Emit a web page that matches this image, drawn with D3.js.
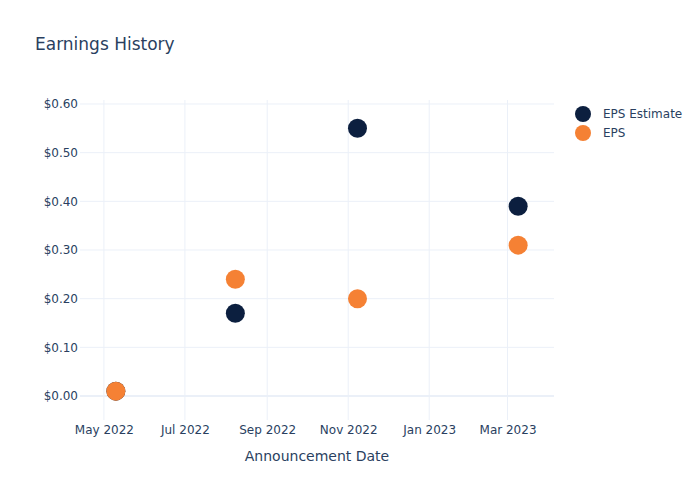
<!DOCTYPE html>
<html>
<head>
<meta charset="utf-8">
<script src="https://cdn.jsdelivr.net/npm/d3@7"></script>
<style>
  html, body { margin: 0; padding: 0; background: #fff; }
  svg { display: block; font-family: "DejaVu Sans", Verdana, sans-serif; }
</style>
</head>
<body>
<svg id="chart" width="700" height="500"></svg>
<script>
const dates = ["2022-05-10", "2022-08-08", "2022-11-08", "2023-03-09"];
const epsEstimate = [0.01, 0.17, 0.55, 0.39];
const eps = [0.01, 0.24, 0.20, 0.31];
const xTickDates = ["2022-05-01", "2022-07-01", "2022-09-01", "2022-11-01", "2023-01-01", "2023-03-01"];
const yTicks = [0, 0.1, 0.2, 0.3, 0.4, 0.5, 0.6];
const seriesNames = ["EPS Estimate", "EPS"];
const seriesColors = ["#0c1f3f", "#f58134"];

const parse = d3.timeParse("%Y-%m-%d");
const svg = d3.select("#chart");
const W = 700, H = 500;
const m = { l: 80, r: 146, t: 100, b: 80 };

const x = d3.scaleTime()
  .domain([parse("2022-04-13"), parse("2023-04-05")])
  .range([m.l, W - m.r]);
const y = d3.scaleLinear()
  .domain([-0.0493, 0.6082])
  .range([H - m.b, m.t]);

const textColor = "#2a3f5f";
const gridColor = "#ebf0f8";

// grid
const g = svg.append("g");
g.selectAll("line.xg").data(xTickDates).join("line")
  .attr("x1", d => x(parse(d))).attr("x2", d => x(parse(d)))
  .attr("y1", m.t).attr("y2", H - m.b)
  .attr("stroke", gridColor).attr("stroke-width", 1);
g.selectAll("line.yg").data(yTicks).join("line")
  .attr("x1", m.l).attr("x2", W - m.r)
  .attr("y1", d => y(d)).attr("y2", d => y(d))
  .attr("stroke", gridColor).attr("stroke-width", d => d === 0 ? 2 : 1);

// x axis
const xAxis = d3.axisBottom(x)
  .tickValues(xTickDates.map(parse))
  .tickFormat(d3.timeFormat("%b %Y"))
  .tickSize(0).tickPadding(5);
const xg = svg.append("g").attr("transform", `translate(0,${H - m.b})`).call(xAxis);
xg.select(".domain").remove();
xg.selectAll("text").attr("fill", textColor).style("font-size", "12px")
  .style("font-family", '"DejaVu Sans", Verdana, sans-serif');

// y axis
const yAxis = d3.axisLeft(y)
  .tickValues(yTicks)
  .tickFormat(d => "$" + d3.format(".2f")(d))
  .tickSize(0).tickPadding(2);
const yg = svg.append("g").attr("transform", `translate(${m.l},0)`).call(yAxis);
yg.select(".domain").remove();
yg.selectAll("text").attr("fill", textColor).style("font-size", "12px")
  .style("font-family", '"DejaVu Sans", Verdana, sans-serif');

// points
const seriesData = [epsEstimate, eps];
seriesData.forEach((vals, si) => {
  svg.append("g").selectAll("circle").data(vals).join("circle")
    .attr("cx", (d, i) => x(parse(dates[i])))
    .attr("cy", d => y(d))
    .attr("r", 9.5)
    .attr("fill", seriesColors[si]);
});

// title
svg.append("text").attr("x", 35).attr("y", 50)
  .attr("fill", textColor).style("font-size", "17px")
  .text("Earnings History");

// x axis title
svg.append("text").attr("x", (m.l + W - m.r) / 2).attr("y", 461)
  .attr("text-anchor", "middle").attr("fill", textColor).style("font-size", "14px")
  .text("Announcement Date");

// legend
const lg = svg.append("g");
seriesNames.forEach((name, i) => {
  const yy = 114 + i * 19;
  lg.append("circle").attr("cx", 583).attr("cy", yy).attr("r", 8).attr("fill", seriesColors[i]);
  lg.append("text").attr("x", 603).attr("y", yy + 4)
    .attr("fill", textColor).style("font-size", "12px").text(name);
});
</script>
</body>
</html>
